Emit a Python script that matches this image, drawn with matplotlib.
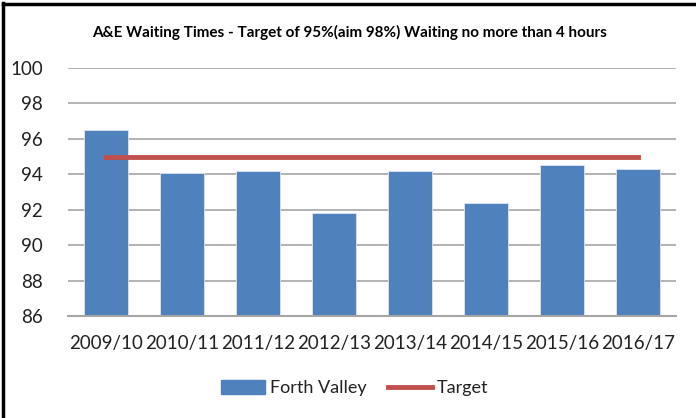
import matplotlib.pyplot as plt
from matplotlib.lines import Line2D

years = ["2009/10", "2010/11", "2011/12", "2012/13", "2013/14", "2014/15", "2015/16", "2016/17"]
forth_valley = [96.5, 94.1, 94.2, 91.8, 94.2, 92.4, 94.5, 94.3]
target = [95, 95, 95, 95, 95, 95, 95, 95]

plt.rcParams['font.family'] = ['Lato', 'DejaVu Sans']

fig = plt.figure(figsize=(6.96, 4.18), dpi=100)
ax = fig.add_axes([68 / 696, 1 - 316 / 418, 608 / 696, 248 / 418])

x = range(len(years))
ax.bar(x, forth_valley, width=0.58, color="#4F81BD", edgecolor="#DCE6F2", linewidth=0.6,
       label="Forth Valley", zorder=2)
ax.plot(x, target, color="#C0504D", linewidth=3.5, label="Target", zorder=3)

ax.set_xlim(-0.5, len(years) - 0.5)
ax.set_ylim(86, 100)
ax.set_yticks(range(86, 101, 2))
ax.set_xticks(list(x))
ax.set_xticklabels(years)
ax.tick_params(axis="both", length=0, labelsize=13.5, colors="#222222")
ax.tick_params(axis="y", pad=18)
ax.tick_params(axis="x", pad=14)
ax.grid(axis="y", color="#A6A6A6", linewidth=1.2, zorder=0)
for s in ["left", "right", "top"]:
    ax.spines[s].set_visible(False)
ax.spines["bottom"].set_color("#A6A6A6")
ax.spines["bottom"].set_linewidth(1.5)

fig.text(350 / 696, 1 - 32 / 418, "A&E Waiting Times - Target of 95%(aim 98%) Waiting no more than 4 hours",
         ha="center", va="center", fontsize=11, fontweight="bold")

handles = [plt.Rectangle((0, 0), 1, 1, color="#4F81BD"),
           Line2D([0], [0], color="#C0504D", linewidth=3.5)]
fig.legend(handles, ["Forth Valley", "Target"], loc="center", bbox_to_anchor=(355 / 696, 1 - 388 / 418),
           ncol=2, frameon=False, fontsize=13, handlelength=2.4, handleheight=0.8,
           columnspacing=1.2, handletextpad=0.3, labelcolor="#222222")

# frame lines on left and top like the screenshot
fig.add_artist(Line2D([3 / 696, 3 / 696], [0, 1 - 3 / 418], color="black", linewidth=2.5,
                      transform=fig.transFigure))
fig.add_artist(Line2D([3 / 696, 1], [1 - 4 / 418, 1 - 4 / 418], color="black", linewidth=2.5,
                      transform=fig.transFigure))

fig.savefig("out.png", dpi=100)
